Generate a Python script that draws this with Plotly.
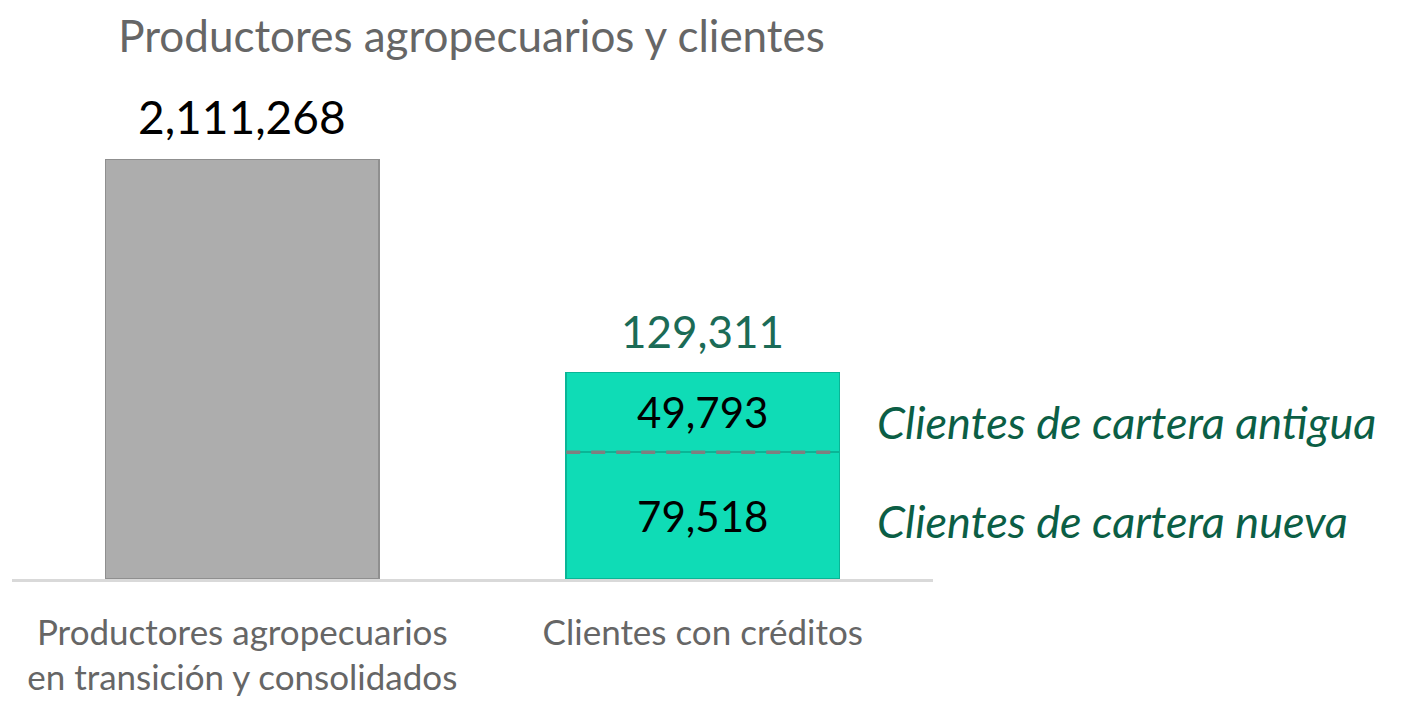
import plotly.graph_objects as go

# ---- data ----
categories = ["Productores agropecuarios<br>en transición y consolidados", "Clientes con créditos"]
productores_total = [2111268]
clientes_nueva = [79518]
clientes_antigua = [49793]
clientes_total = [129311]
segment_labels = ["Clientes de cartera nueva", "Clientes de cartera antigua"]
title_text = "Productores agropecuarios y clientes"

FONT = "Lato"
BAR_W = 0.593
GRAY = "#adadad"
TEAL = "#0fdcb6"
DKGREEN = "#0b5e45"

# page body has an 8px margin, so the figure is sized/positioned accordingly
FIG_W, FIG_H = 1395, 693

fig = go.Figure()

fig.add_trace(go.Bar(
    x=[categories[0]], y=productores_total, yaxis="y2", width=BAR_W,
    marker=dict(color=GRAY, line=dict(color="#8f8f8f", width=1.5)),
    hoverinfo="skip", showlegend=False,
))
fig.add_trace(go.Bar(
    x=[categories[1]], y=clientes_nueva, width=BAR_W, name=segment_labels[0],
    marker=dict(color=TEAL, line=dict(color="#09b596", width=1.5)),
    texttemplate="%{y:,}", textposition="inside", insidetextanchor="middle",
    textfont=dict(family=FONT, size=42, color="black"),
    hoverinfo="skip", showlegend=False,
))
fig.add_trace(go.Bar(
    x=[categories[1]], y=clientes_antigua, width=BAR_W, name=segment_labels[1],
    marker=dict(color=TEAL, line=dict(color="#09b596", width=1.5)),
    texttemplate="%{y:,}", textposition="inside", insidetextanchor="middle",
    textfont=dict(family=FONT, size=42, color="black"),
    hoverinfo="skip", showlegend=False,
))

# dashed separator at the stack boundary
fig.add_shape(type="line", xref="x", yref="y", layer="above",
              x0=1 - BAR_W / 2, x1=1 + BAR_W / 2,
              y0=clientes_nueva[0], y1=clientes_nueva[0],
              line=dict(color="#7f7f7f", width=3.5, dash="14px,11px"))

# totals above bars
fig.add_annotation(x=categories[0], y=productores_total[0], yref="y2",
                   text=f"{productores_total[0]:,}", showarrow=False,
                   yanchor="bottom", yshift=14,
                   font=dict(family=FONT, size=46, color="black"))
fig.add_annotation(x=categories[1], y=clientes_total[0], yref="y",
                   text=f"{clientes_total[0]:,}", showarrow=False,
                   yanchor="bottom", yshift=14,
                   font=dict(family=FONT, size=44, color="#1b6b56"))

# segment side labels
fig.add_annotation(x=0.9371, xref="paper", xanchor="left",
                   y=clientes_nueva[0] + clientes_antigua[0] / 2, yref="y", yshift=-10,
                   text=f"<i>{segment_labels[1]}</i>", showarrow=False,
                   font=dict(family=FONT, size=45, color=DKGREEN))
fig.add_annotation(x=0.9371, xref="paper", xanchor="left",
                   y=clientes_nueva[0] / 2, yref="y", yshift=-5,
                   text=f"<i>{segment_labels[0]}</i>", showarrow=False,
                   font=dict(family=FONT, size=45, color=DKGREEN))

PLOT_TOP, PLOT_BOTTOM = 92, 575
plot_h = PLOT_BOTTOM - PLOT_TOP
gray_top_px, teal_top_px = 152, 367
r2 = productores_total[0] * plot_h / (PLOT_BOTTOM - gray_top_px)
r1 = clientes_total[0] * plot_h / (PLOT_BOTTOM - teal_top_px)

fig.update_layout(
    width=FIG_W, height=FIG_H,
    margin=dict(l=4, r=FIG_W - 925, t=PLOT_TOP, b=FIG_H - PLOT_BOTTOM),
    paper_bgcolor="white", plot_bgcolor="white",
    barmode="stack", bargap=0.4,
    title=dict(text=title_text, x=463.5 / FIG_W, xanchor="center",
               y=1 - 29 / FIG_H, yanchor="middle", yref="container",
               font=dict(family=FONT, size=44, color="#666666")),
    xaxis=dict(type="category", categoryorder="array", categoryarray=categories,
               showline=True, linecolor="#d9d9d9", linewidth=2.5,
               showgrid=False, ticks="", ticklabelstandoff=21,
               tickfont=dict(family=FONT, size=35, color="#666666")),
    yaxis=dict(range=[0, r1], visible=False, showgrid=False),
    yaxis2=dict(range=[0, r2], visible=False, showgrid=False,
                overlaying="y", side="right"),
)

fig.write_html("out.html")
